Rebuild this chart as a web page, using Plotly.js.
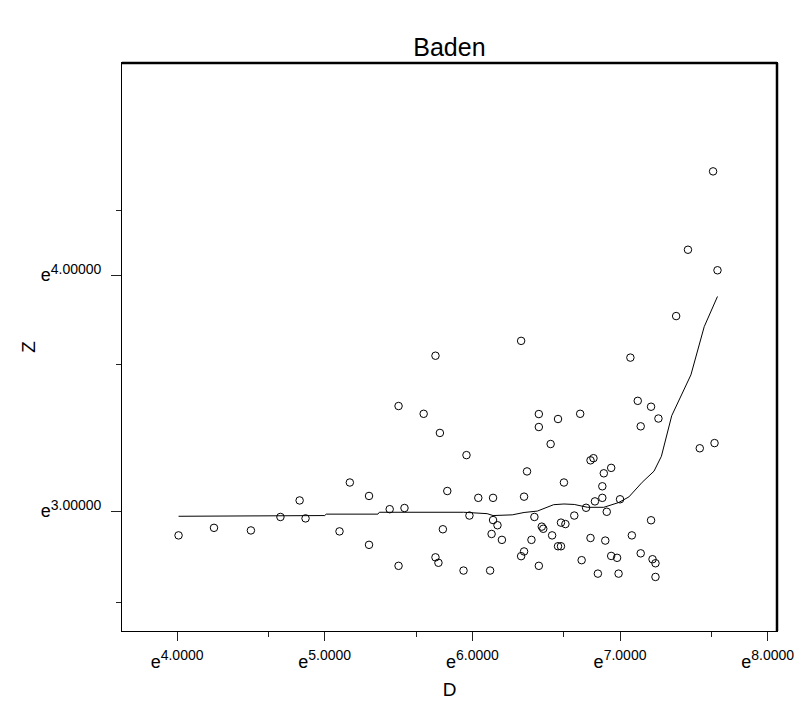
<!DOCTYPE html>
<html>
<head>
<meta charset="utf-8">
<script src="https://cdn.plot.ly/plotly-3.0.1.min.js"></script>
<style>html,body{margin:0;padding:0;background:#fff;}#chart{width:796px;height:710px;}</style>
</head>
<body>
<div id="chart"></div>
<script>
// natural-log values of D and Z (axes are drawn on the ln scale, labelled e^k)
var lnD = [4.01,4.25,4.50,4.70,4.83,4.87,5.10,5.17,5.30,5.30,5.44,5.54,5.50,5.50,5.67,5.75,5.78,5.75,5.77,5.80,
           5.83,5.96,5.98,5.94,6.04,6.14,6.12,6.14,6.17,6.13,6.20,6.33,6.35,6.37,6.42,6.40,6.35,6.33,6.45,6.45,
           6.45,6.47,6.48,6.54,6.53,6.58,6.62,6.60,6.63,6.58,6.60,6.69,6.73,6.74,6.77,6.80,6.80,6.82,6.83,6.85,
           6.88,6.88,6.89,6.90,6.91,6.94,6.94,6.98,6.99,7.00,7.07,7.08,7.12,7.14,7.14,7.21,7.21,7.26,7.22,7.24,
           7.24,7.38,7.46,7.63,7.66,7.54,7.64];
var lnZ = [2.897,2.929,2.918,2.975,3.045,2.969,2.914,3.121,3.064,2.857,3.008,3.013,3.445,2.768,3.412,3.658,3.331,2.804,2.781,2.923,
           3.085,3.237,2.981,2.748,3.056,3.056,2.748,2.962,2.940,2.903,2.878,3.721,3.061,3.168,2.975,2.878,2.829,2.809,3.411,3.356,
           2.768,2.934,2.925,2.897,3.284,3.390,3.121,2.951,2.945,2.851,2.851,2.981,3.412,2.792,3.014,2.886,3.215,3.224,3.041,2.735,
           3.056,3.105,3.160,2.875,2.997,3.183,2.810,2.802,2.735,3.050,3.650,2.897,3.467,3.359,2.821,3.442,2.961,3.392,2.796,2.779,
           2.721,3.826,4.107,4.439,4.020,3.266,3.288];
// smoothed (loess) curve
var fitD = [4.01,4.45,4.46,5.00,5.01,5.36,5.37,5.94,6.10,6.14,6.27,6.35,6.44,6.55,6.62,6.69,6.78,6.89,6.99,7.06,7.15,7.23,7.28,7.35,7.48,7.57,7.66];
var fitZ = [2.978,2.978,2.981,2.981,2.987,2.987,2.995,2.995,2.989,2.981,2.984,2.994,3.000,3.027,3.030,3.028,3.016,3.016,3.036,3.060,3.122,3.169,3.232,3.404,3.577,3.781,3.909];
var xTickVals = [4,5,6,7,8];
var xExp = ['4.0000','5.0000','6.0000','7.0000','8.0000'];
var xMinor = [4.62,5.62,6.62,7.62];
var yTickVals = [3,4];
var yExp = ['3.00000','4.00000'];
var yMinor = [2.614,3.623,4.275];

function expLabel(s) { return 'e<sup><span style="font-size:14px">' + s + '</span></sup>'; }
var xTickText = xExp.map(expLabel);
var yTickText = yExp.map(expLabel);

var font = 'Liberation Sans, Arial, sans-serif';
var traces = [
  {x: lnD, y: lnZ, mode: 'markers', type: 'scatter',
   marker: {symbol: 'circle-open', size: 7.5, color: '#000', line: {width: 1, color: '#000'}}},
  {x: fitD, y: fitZ, mode: 'lines', type: 'scatter', line: {color: '#000', width: 1}}
];
var layout = {
  width: 796, height: 710,
  margin: {l: 122, r: 19, t: 63, b: 79, pad: 0},
  paper_bgcolor: '#fff', plot_bgcolor: '#fff',
  showlegend: false,
  font: {family: font, color: '#000', size: 18},
  title: {text: 'Baden', x: 0.5646, xanchor: 'center', y: 0.933, yanchor: 'middle', font: {family: font, size: 25, color: '#000'}},
  xaxis: {range: [3.627, 8.063], showgrid: false, zeroline: false,
          showline: true, linecolor: '#000', linewidth: 1, mirror: true,
          tickmode: 'array', tickvals: xTickVals, ticktext: xTickText,
          ticks: 'outside', ticklen: 9, tickwidth: 1, tickcolor: '#222',
          ticklabelstandoff: 5,
          tickfont: {family: font, size: 18, color: '#000'},
          minor: {tickmode: 'array', tickvals: xMinor, ticks: 'outside', ticklen: 5, tickwidth: 1, tickcolor: '#222', showgrid: false},
          title: {text: 'D', font: {family: font, size: 19, color: '#000'}, standoff: 12}},
  yaxis: {range: [2.492, 4.898], showgrid: false, zeroline: false,
          showline: true, linecolor: '#000', linewidth: 1, mirror: true,
          tickmode: 'array', tickvals: yTickVals, ticktext: yTickText,
          ticks: 'outside', ticklen: 10, tickwidth: 1, tickcolor: '#222',
          ticklabelstandoff: 6,
          tickfont: {family: font, size: 18, color: '#000'},
          minor: {tickmode: 'array', tickvals: yMinor, ticks: 'outside', ticklen: 5, tickwidth: 1, tickcolor: '#222', showgrid: false},
          title: {text: 'Z', font: {family: font, size: 19, color: '#000'}, standoff: 0}},
  shapes: [
    {type: 'line', xref: 'paper', yref: 'paper', x0: 0, x1: 1, y0: 1, y1: 1, line: {color: '#000', width: 2.5}},
    {type: 'line', xref: 'paper', yref: 'paper', x0: 1, x1: 1, y0: 0, y1: 1, line: {color: '#000', width: 2.5}}
  ]
};
Plotly.newPlot('chart', traces, layout, {displayModeBar: false, staticPlot: true});
</script>
</body>
</html>
